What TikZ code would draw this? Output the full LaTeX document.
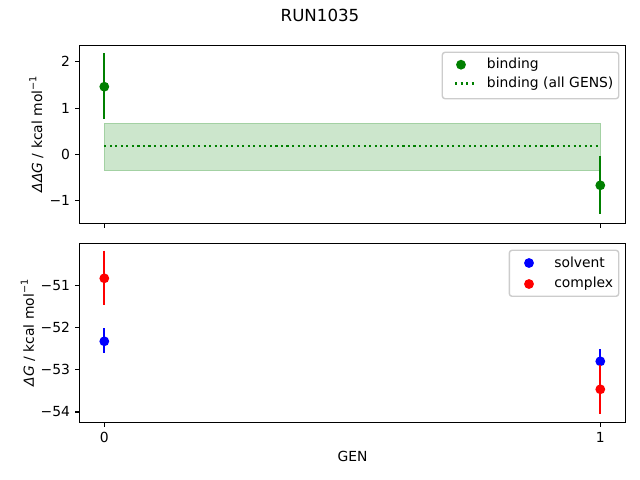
\documentclass[tikz,border=0pt]{standalone}
\usepackage{fontspec}
\setmainfont{DejaVu Sans}
\begin{document}
\begin{tikzpicture}[x=0.72pt,y=-0.72pt,font=\fontsize{10}{12}\selectfont]
\definecolor{mgreen}{HTML}{008000}
\definecolor{mblue}{HTML}{0000FF}
\definecolor{mred}{HTML}{FF0000}
\definecolor{legedge}{HTML}{CCCCCC}
\definecolor{bandfill}{HTML}{CCE6CC}
\definecolor{bandedge}{HTML}{A3D1A3}
\tikzset{
  axframe/.style={draw=black,line width=0.8pt},
  tickmark/.style={draw=black,line width=0.8pt},
  ticklab/.style={inner sep=0pt},
  ebar/.style={line width=1.5pt},
  mk/.style={line width=1pt},
  legbox/.style={draw=legedge,fill=white,rounded corners=2pt,line width=1pt},
  legtext/.style={anchor=west,inner sep=0pt},
  dotline/.style={draw=mgreen,line width=1.5pt,dash pattern=on 1.5pt off 2.475pt},
  ylab/.style={rotate=90,anchor=south,inner sep=0pt},
}
\useasboundingbox (0,0) rectangle (640,480);

% title
\node[font=\fontsize{12}{14}\selectfont] (title) at (320,15.9) {RUN1035};

% ---------- top panel ----------
\fill[bandfill] (104.3,123.3) rectangle (600.3,170.7);
\draw[bandedge,line width=1pt] (104.3,123.3) rectangle (600.3,170.7);
\draw[dotline] (104.3,146) -- (600.3,146);
\draw[ebar,mgreen] (104.3,53.3) -- (104.3,118.7);
\fill[mk,mgreen,draw=mgreen] (104.3,86.7) circle[radius=3pt];
\draw[ebar,mgreen] (600.3,156) -- (600.3,214.3);
\fill[mk,mgreen,draw=mgreen] (600.3,185.3) circle[radius=3pt];
\draw[axframe] (79.5,45.5) rectangle (625.5,223.5);
% x ticks (no labels)
\draw[tickmark] (104.3,223.5) -- (104.3,228.4);
\draw[tickmark] (600.3,223.5) -- (600.3,228.4);
% y ticks
\foreach \yy/\lab in {61.7/2,108.2/1,154.4/0,200.9/−1}{
  \draw[tickmark] (79.5,\yy) -- (74.6,\yy);
  \node[ticklab,anchor=east] at (70.3,\yy) {\lab};
}
\node[ylab] (ylabtop) at (43.8,134.2) {\textit{ΔΔG} / kcal mol\raisebox{4.3pt}{\fontsize{7}{8}\selectfont −1}};

% legend top
\draw[legbox] (442.3,52.3) rectangle (618.7,98.7);
\fill[mk,mgreen,draw=mgreen] (461,64.7) circle[radius=3pt];
\node[legtext] (lbind) at (486.7,65) {binding};
\draw[dotline] (455,83.5) -- (475,83.5);
\node[legtext] (lall) at (486.7,83.5) {binding (all GENS)};

% ---------- bottom panel ----------
\draw[ebar,mblue] (104.3,328.3) -- (104.3,352.7);
\fill[mk,mblue,draw=mblue] (104.3,341.3) circle[radius=3pt];
\draw[ebar,mblue] (600.3,349) -- (600.3,373.6);
\fill[mk,mblue,draw=mblue] (600.3,361.3) circle[radius=3pt];
\draw[ebar,mred] (104.3,250.7) -- (104.3,304.7);
\fill[mk,mred,draw=mred] (104.3,278.3) circle[radius=3pt];
\draw[ebar,mred] (600.3,364.6) -- (600.3,414);
\fill[mk,mred,draw=mred] (600.3,389.3) circle[radius=3pt];
\draw[axframe] (79.5,243.5) rectangle (625.5,422.5);
% x ticks
\draw[tickmark] (104.3,422.5) -- (104.3,427.4);
\draw[tickmark] (600.3,422.5) -- (600.3,427.4);
\node[ticklab] (x0) at (104.3,437.7) {0};
\node[ticklab] (x1) at (600.3,437.7) {1};
% y ticks
\foreach \yy/\lab in {285.7/−51,327.8/−52,369.9/−53,412/−54}{
  \draw[tickmark] (79.5,\yy) -- (74.6,\yy);
  \node[ticklab,anchor=east] at (70.3,\yy) {\lab};
}
\node[ylab] (ylabbot) at (35.4,332.8) {\textit{ΔG} / kcal mol\raisebox{4.3pt}{\fontsize{7}{8}\selectfont −1}};
\node (xlab) at (352.5,456.7) {GEN};

% legend bottom
\draw[legbox] (509.3,250.3) rectangle (618.7,296.3);
\fill[mk,mblue,draw=mblue] (529,263) circle[radius=3pt];
\node[legtext] (lsolv) at (554,262) {solvent};
\fill[mk,mred,draw=mred] (529,284) circle[radius=3pt];
\node[legtext] (lcomp) at (554,283.5) {complex};
\end{tikzpicture}
\end{document}
